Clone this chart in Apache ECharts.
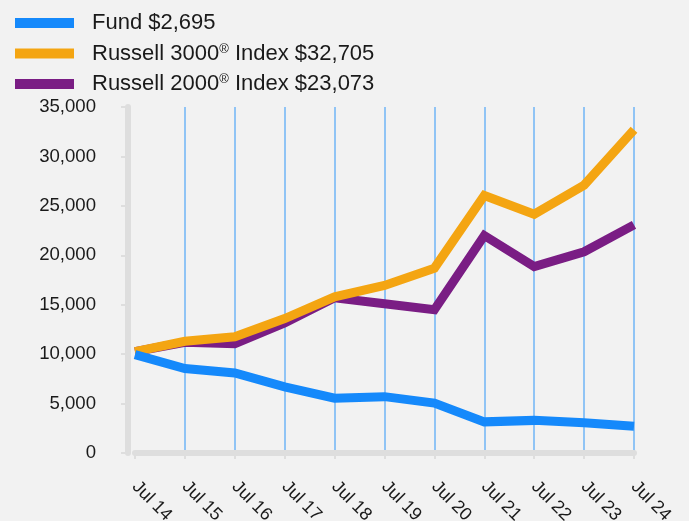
<!DOCTYPE html>
<html>
<head>
<meta charset="utf-8">
<script src="https://cdn.jsdelivr.net/npm/echarts@6/dist/echarts.min.js"></script>
<style>
    html, body { margin: 0; padding: 0; background: #f2f2f2; }
    #id-div-chart { width: 689px; height: 521px; }
</style>
</head>
<body>
<div id="id-div-chart"></div>
<script>
var log = console.log.bind(console)

var e = (selector) => document.querySelector(selector)

// 数据
var categories = ['Jul 14', 'Jul 15', 'Jul 16', 'Jul 17', 'Jul 18', 'Jul 19', 'Jul 20', 'Jul 21', 'Jul 22', 'Jul 23', 'Jul 24']
var fundValues = [9950, 8550, 8100, 6700, 5550, 5700, 5050, 3150, 3300, 3050, 2695]
var russell3000Values = [10250, 11300, 11750, 13600, 15800, 16950, 18700, 26050, 24150, 27100, 32705]
var russell2000Values = [10250, 11200, 11050, 13150, 15700, 15100, 14500, 22000, 18850, 20350, 23073]
var seriesNames = ['Fund $2,695', 'Russell 3000® Index $32,705', 'Russell 2000® Index $23,073']
var seriesColors = ['#1589fb', '#f4a512', '#7a1d84']
var yTicks = [0, 5000, 10000, 15000, 20000, 25000, 30000, 35000]

var fontName = 'Liberation Sans, Arial, sans-serif'

var configuredChart = function() {
    var element = e('#id-div-chart')
    var chart = echarts.init(element, null, {renderer: 'canvas'})
    return chart
}

var lineSeries = function(index, values, z) {
    return {
        name: seriesNames[index],
        type: 'line',
        data: values,
        z: z,
        symbol: 'none',
        smooth: false,
        color: seriesColors[index],
        lineStyle: {
            width: 9,
            color: seriesColors[index],
            cap: 'butt',
            join: 'miter',
        },
    }
}

var chartOption = function() {
    var option = {
        backgroundColor: '#f2f2f2',
        animation: false,
        textStyle: {
            fontFamily: fontName,
        },
        legend: {
            orient: 'vertical',
            left: 10,
            top: 7,
            itemWidth: 59,
            itemHeight: 10,
            itemGap: 8.5,
            icon: 'rect',
            data: seriesNames,
            formatter: function(name) {
                return name.replace('®', '{sup|®}')
            },
            textStyle: {
                fontFamily: fontName,
                fontSize: 22,
                lineHeight: 22,
                color: '#1a1a1a',
                padding: [0, 0, 0, 13],
                rich: {
                    sup: {
                        fontFamily: fontName,
                        fontSize: 13,
                        color: '#1a1a1a',
                        verticalAlign: 'top',
                        padding: [0, 0, 8, 0],
                    },
                },
            },
        },
        grid: {
            left: 135,
            right: 55,
            top: 107,
            bottom: 68,
            outerBoundsMode: 'none',
            containLabel: false,
        },
        xAxis: {
            type: 'category',
            boundaryGap: false,
            data: categories,
            axisLine: {
                lineStyle: {color: '#dedede', width: 6},
            },
            axisTick: {
                show: true,
                length: 6,
                lineStyle: {color: '#dedede', width: 2},
            },
            axisLabel: {
                rotate: -45,
                margin: 31,
                fontSize: 18,
                color: '#1a1a1a',
                fontFamily: fontName,
            },
            splitLine: {
                show: true,
                interval: function(index) {
                    return index > 0
                },
                lineStyle: {color: '#6fb4f6', width: 1.5},
            },
        },
        yAxis: {
            type: 'value',
            min: yTicks[0],
            max: yTicks[yTicks.length - 1],
            interval: 5000,
            offset: 7,
            axisLine: {
                show: true,
                lineStyle: {color: '#dedede', width: 6},
            },
            axisTick: {
                show: true,
                length: 7,
                lineStyle: {color: '#dedede', width: 2},
            },
            axisLabel: {
                margin: 32,
                fontSize: 18.6,
                color: '#1a1a1a',
                fontFamily: fontName,
                formatter: function(v) {
                    return v.toLocaleString('en-US')
                },
            },
            splitLine: {show: false},
        },
        series: [
            lineSeries(0, fundValues, 4),
            lineSeries(1, russell3000Values, 3),
            lineSeries(2, russell2000Values, 2),
        ],
    }
    return option
}

var __main = function() {
    var chart = configuredChart()
    chart.setOption(chartOption())
}

__main()
</script>
</body>
</html>
